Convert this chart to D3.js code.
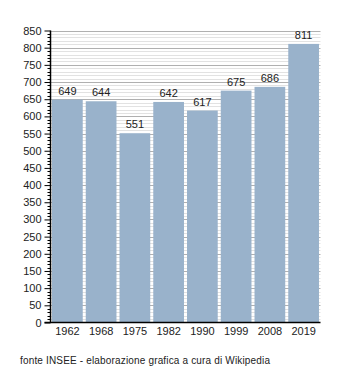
<!DOCTYPE html>
<html><head><meta charset="utf-8">
<script src="https://cdn.jsdelivr.net/npm/d3@7"></script>
<style>body{margin:0;background:#fff}svg{display:block;font-family:"Liberation Sans",Arial,sans-serif}</style>
</head><body><svg id="c" width="350" height="373"></svg>
<script>
const years = ["1962","1968","1975","1982","1990","1999","2008","2019"];
const population = [649,644,551,642,617,675,686,811];
const yTicks = [0,50,100,150,200,250,300,350,400,450,500,550,600,650,700,750,800,850];
const source = "fonte INSEE - elaborazione grafica a cura di Wikipedia";

const svg = d3.select("#c");
const mLeft = 50.5, mRight = 320.5, mTop = 30.5, mBottom = 322.5;
const x = d3.scaleBand().domain(years).range([mLeft, mRight]).paddingInner(0.09).paddingOuter(0.045);
const y = d3.scaleLinear().domain([0, 850]).range([mBottom, mTop]);

// minor gridlines
const minor = d3.range(0, 851, 10).filter(v => v % 50 !== 0);
svg.append("g").selectAll("line").data(minor).join("line")
  .attr("x1", mLeft).attr("x2", mRight)
  .attr("y1", d => Math.round(y(d)) + 0.5).attr("y2", d => Math.round(y(d)) + 0.5)
  .attr("stroke", "#e2e2e2").attr("stroke-width", 1);
svg.append("g").selectAll("line").data(yTicks.filter(v => v > 0)).join("line")
  .attr("x1", mLeft).attr("x2", mRight)
  .attr("y1", d => Math.round(y(d)) + 0.5).attr("y2", d => Math.round(y(d)) + 0.5)
  .attr("stroke", "#b0b0b0").attr("stroke-width", 1);

// bars
svg.append("g").selectAll("rect").data(population).join("rect")
  .attr("x", (d, i) => x(years[i]))
  .attr("width", x.bandwidth())
  .attr("y", d => y(d))
  .attr("height", d => mBottom - y(d))
  .attr("fill", "#99b2cb");

// bar labels
svg.append("g").selectAll("text").data(population).join("text")
  .attr("x", (d, i) => x(years[i]) + x.bandwidth() / 2)
  .attr("y", d => y(d) - 5)
  .attr("text-anchor", "middle").attr("font-size", 11).attr("fill", "#222")
  .text(d => d);

// y axis
const yAxis = d3.axisLeft(y).tickValues(yTicks).tickSize(6).tickPadding(3);
const gy = svg.append("g").attr("transform", `translate(${mLeft},0)`).call(yAxis);
gy.select(".domain").remove();
gy.selectAll(".tick line").attr("stroke", "#000");
gy.selectAll(".tick text").attr("font-size", 11).attr("fill", "#222").attr("font-family", "Liberation Sans, Arial, sans-serif");
svg.append("g").selectAll("line").data(minor).join("line")
  .attr("x1", mLeft - 3).attr("x2", mLeft)
  .attr("y1", d => Math.round(y(d)) + 0.5).attr("y2", d => Math.round(y(d)) + 0.5)
  .attr("stroke", "#000");
svg.append("line").attr("x1", mLeft).attr("x2", mLeft).attr("y1", mTop).attr("y2", mBottom)
  .attr("stroke", "#000").attr("stroke-width", 1.5);

// x axis
const gx = svg.append("g").attr("transform", `translate(0,${mBottom})`)
  .call(d3.axisBottom(x).tickSize(0).tickPadding(5));
gx.select(".domain").remove();
gx.selectAll(".tick text").attr("font-size", 11).attr("fill", "#222").attr("font-family", "Liberation Sans, Arial, sans-serif");
svg.append("line").attr("x1", mLeft - 6).attr("x2", mRight).attr("y1", mBottom).attr("y2", mBottom)
  .attr("stroke", "#000").attr("stroke-width", 1.5);

svg.append("text").attr("x", 20).attr("y", 364).attr("font-size", 10).attr("fill", "#222")
  .attr("textLength", 250).text(source);
</script></body></html>
